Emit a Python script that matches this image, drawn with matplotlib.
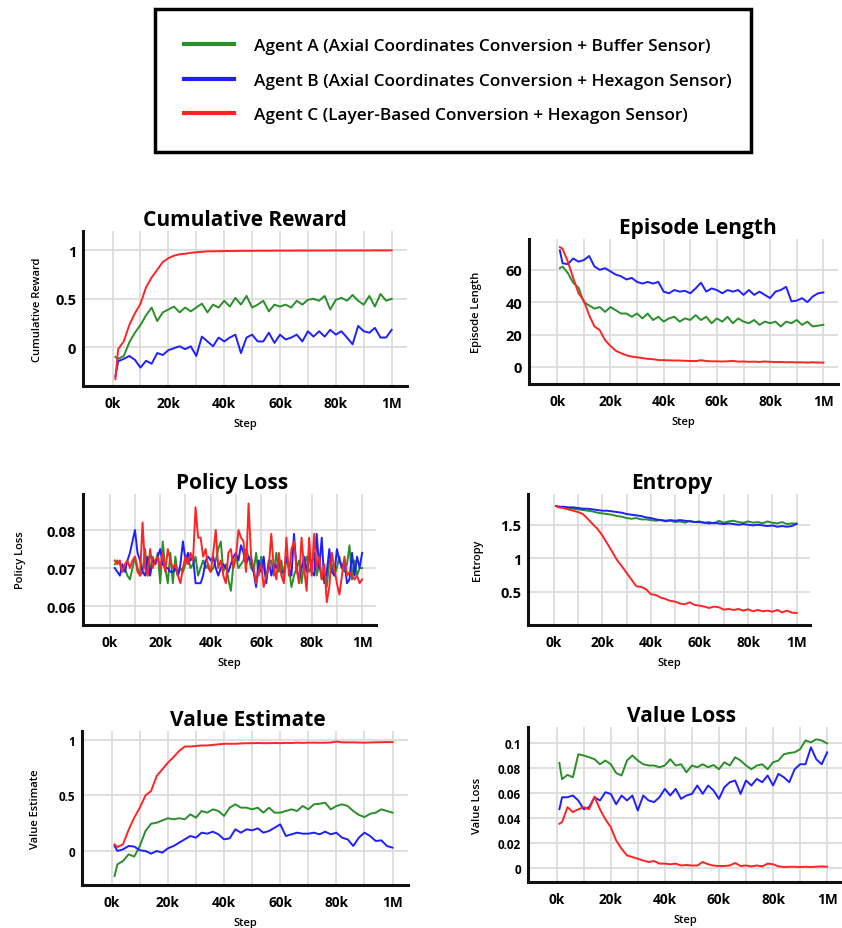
import numpy as np
import matplotlib
matplotlib.use("Agg")
import matplotlib.pyplot as plt
from matplotlib.lines import Line2D

plt.rcParams['font.family'] = ['Open Sans', 'DejaVu Sans']

# data
labels = ["Agent A (Axial Coordinates Conversion + Buffer Sensor)",
          "Agent B (Axial Coordinates Conversion + Hexagon Sensor)",
          "Agent C (Layer-Based Conversion + Hexagon Sensor)"]
colors = ["#2a8f2a", "#1f1fff", "#ff2424"]

steps = np.r_[1, np.arange(2, 101, 2)]      # k steps
steps_pl = np.arange(2, 101)

xtick_pos = [0, 20, 40, 60, 80, 100]
xtick_lab = ["0k", "20k", "40k", "60k", "80k", "1M"]

# cumulative reward
cr_a = [-0.10, -0.12, -0.09, 0.05, 0.15, 0.23, 0.33, 0.41, 0.27, 0.36, 0.39, 0.42, 0.36, 0.41, 0.37, 0.41,
        0.45, 0.36, 0.44, 0.41, 0.48, 0.42, 0.51, 0.44, 0.53, 0.41, 0.44, 0.48, 0.37, 0.44, 0.42, 0.44, 0.41,
        0.48, 0.44, 0.49, 0.50, 0.48, 0.53, 0.39, 0.49, 0.51, 0.48, 0.54, 0.48, 0.44, 0.53, 0.42, 0.55, 0.48, 0.50]
cr_b = [-0.30, -0.145, -0.12, -0.09, -0.13, -0.21, -0.14, -0.17, -0.06, -0.08, -0.03, -0.01, 0.01, -0.02, 0.01,
        -0.09, 0.11, 0.06, 0.01, 0.10, 0.06, 0.10, 0.13, -0.06, 0.10, 0.13, 0.06, 0.06, 0.15, 0.045, 0.13, 0.08,
        0.10, 0.13, 0.06, 0.165, 0.11, 0.165, 0.11, 0.18, 0.13, 0.165, 0.10, 0.03, 0.22, 0.165, 0.15, 0.20, 0.10,
        0.10, 0.18]
cr_c = [-0.33, -0.02, 0.06, 0.23, 0.35, 0.45, 0.62, 0.72, 0.80, 0.88, 0.92, 0.945, 0.96, 0.965, 0.975, 0.98,
        0.985, 0.99, 0.99, 0.992, 0.993, 0.993, 0.994, 0.995, 0.995, 0.995, 0.996, 0.996, 0.996, 0.997, 0.997,
        0.997, 0.997, 0.998, 0.998, 0.998, 0.998, 0.998, 0.998, 0.999, 0.999, 0.999, 0.999, 0.999, 0.999, 0.999,
        0.999, 1.0, 1.0, 1.0, 1.0]

# episode length
el_a = [61, 62, 58, 52, 49, 40, 38, 36, 37, 34, 37, 35, 33, 33, 31, 33, 30, 33, 29, 31, 28, 30, 31, 28, 30, 29,
        32, 29, 31, 27, 30, 28, 31, 27, 30, 28, 27, 29, 26, 28, 27, 28, 25, 28, 27, 29, 26, 28, 25, 25.5, 26]
el_b = [72, 64, 63.5, 67, 65, 66, 68.5, 62, 60, 61, 59, 57, 56, 54, 55, 52.5, 51.5, 52.5, 51.5, 52.5, 46.5, 45.5,
        47.5, 46.5, 47, 45.5, 48.5, 52, 46.5, 48.5, 47.5, 45.5, 47.5, 46.5, 47.5, 44.5, 47.5, 44.5, 46.5, 44.5,
        42.5, 46.5, 47.5, 49.5, 40.5, 41, 42.5, 40, 43.5, 45.5, 46]
el_c = [74, 73, 65, 55, 45.5, 41, 32, 25, 22.7, 16.5, 13, 10, 8.5, 7.2, 6.4, 6, 5.5, 5, 4.8, 4.3, 4.2, 4.1, 4, 4,
        3.8, 3.7, 3.6, 4.2, 3.7, 3.5, 3.5, 3.4, 3.5, 3.8, 3.3, 3.4, 3.2, 3.3, 3.1, 3.4, 3.2, 3.0, 3.1, 2.9, 3.0,
        2.8, 2.9, 2.7, 2.9, 2.7, 2.7]

# policy loss
pl_a = [0.071, 0.072, 0.071, 0.069, 0.070, 0.068, 0.067, 0.070, 0.073, 0.070, 0.068, 0.069, 0.075, 0.068, 0.070,
        0.073, 0.071, 0.074, 0.066, 0.077, 0.070, 0.066, 0.074, 0.066, 0.073, 0.068, 0.070, 0.069, 0.071, 0.073,
        0.070, 0.071, 0.073, 0.068, 0.070, 0.072, 0.070, 0.071, 0.069, 0.070, 0.072, 0.075, 0.077, 0.069, 0.071,
        0.067, 0.064, 0.071, 0.073, 0.070, 0.071, 0.072, 0.075, 0.073, 0.070, 0.069, 0.074, 0.068, 0.073, 0.070,
        0.067, 0.071, 0.072, 0.068, 0.074, 0.069, 0.072, 0.067, 0.073, 0.070, 0.065, 0.068, 0.070, 0.072, 0.066,
        0.071, 0.073, 0.069, 0.070, 0.074, 0.068, 0.071, 0.067, 0.069, 0.065, 0.072, 0.071, 0.068, 0.070, 0.073,
        0.070, 0.069, 0.071, 0.076, 0.067, 0.072, 0.068, 0.070, 0.070]
pl_b = [0.070, 0.069, 0.068, 0.071, 0.069, 0.072, 0.074, 0.077, 0.080, 0.074, 0.072, 0.069, 0.068, 0.073, 0.068,
        0.072, 0.071, 0.073, 0.075, 0.071, 0.070, 0.070, 0.069, 0.069, 0.070, 0.068, 0.071, 0.077, 0.072, 0.074,
        0.072, 0.073, 0.066, 0.066, 0.066, 0.068, 0.072, 0.073, 0.072, 0.073, 0.070, 0.068, 0.070, 0.071, 0.070,
        0.069, 0.071, 0.073, 0.074, 0.072, 0.076, 0.074, 0.071, 0.073, 0.072, 0.069, 0.065, 0.072, 0.069, 0.073,
        0.066, 0.072, 0.068, 0.071, 0.070, 0.072, 0.069, 0.069, 0.073, 0.070, 0.068, 0.079, 0.070, 0.067, 0.070,
        0.073, 0.069, 0.074, 0.069, 0.068, 0.079, 0.070, 0.078, 0.066, 0.069, 0.075, 0.069, 0.068, 0.075, 0.072,
        0.070, 0.072, 0.066, 0.067, 0.074, 0.068, 0.073, 0.070, 0.074]
pl_c = [0.072, 0.071, 0.072, 0.069, 0.071, 0.072, 0.070, 0.072, 0.073, 0.069, 0.068, 0.082, 0.070, 0.068, 0.075,
        0.070, 0.072, 0.073, 0.070, 0.074, 0.069, 0.075, 0.072, 0.070, 0.071, 0.068, 0.066, 0.070, 0.073, 0.071,
        0.074, 0.072, 0.086, 0.078, 0.078, 0.073, 0.075, 0.070, 0.069, 0.074, 0.080, 0.070, 0.072, 0.068, 0.066,
        0.074, 0.075, 0.070, 0.073, 0.080, 0.078, 0.077, 0.069, 0.087, 0.073, 0.070, 0.066, 0.069, 0.071, 0.065,
        0.068, 0.070, 0.079, 0.070, 0.067, 0.074, 0.068, 0.066, 0.078, 0.068, 0.075, 0.077, 0.070, 0.066, 0.078,
        0.070, 0.064, 0.078, 0.068, 0.079, 0.070, 0.073, 0.067, 0.071, 0.061, 0.065, 0.074, 0.070, 0.066, 0.063,
        0.068, 0.073, 0.068, 0.069, 0.068, 0.067, 0.068, 0.066, 0.067]

# entropy
en_a = [1.78, 1.77, 1.76, 1.75, 1.74, 1.73, 1.72, 1.71, 1.70, 1.68, 1.67, 1.66, 1.65, 1.63, 1.62, 1.60, 1.59,
        1.60, 1.58, 1.58, 1.57, 1.56, 1.57, 1.55, 1.56, 1.54, 1.55, 1.53, 1.56, 1.54, 1.55, 1.53, 1.54, 1.52,
        1.56, 1.53, 1.55, 1.56, 1.54, 1.53, 1.55, 1.53, 1.54, 1.52, 1.55, 1.53, 1.52, 1.54, 1.51, 1.52, 1.515]
en_b = [1.78, 1.77, 1.77, 1.76, 1.76, 1.75, 1.74, 1.74, 1.73, 1.72, 1.71, 1.71, 1.70, 1.69, 1.68, 1.66, 1.65,
        1.64, 1.63, 1.61, 1.60, 1.58, 1.57, 1.56, 1.57, 1.56, 1.57, 1.56, 1.55, 1.54, 1.54, 1.53, 1.52, 1.53,
        1.52, 1.51, 1.52, 1.51, 1.50, 1.51, 1.50, 1.49, 1.50, 1.49, 1.48, 1.49, 1.47, 1.48, 1.47, 1.48, 1.515]
en_c = [1.78, 1.76, 1.75, 1.73, 1.71, 1.69, 1.66, 1.59, 1.51, 1.44, 1.34, 1.22, 1.10, 0.975, 0.88, 0.78, 0.68,
        0.58, 0.57, 0.535, 0.46, 0.45, 0.41, 0.39, 0.36, 0.35, 0.32, 0.31, 0.34, 0.30, 0.29, 0.275, 0.255, 0.275,
        0.265, 0.23, 0.24, 0.225, 0.24, 0.215, 0.235, 0.205, 0.225, 0.205, 0.215, 0.20, 0.225, 0.19, 0.215, 0.185,
        0.18]

# value estimate
ve_a = [-0.225, -0.12, -0.09, -0.03, -0.05, 0.045, 0.18, 0.245, 0.255, 0.275, 0.295, 0.285, 0.295, 0.285, 0.33,
        0.30, 0.36, 0.345, 0.375, 0.36, 0.315, 0.39, 0.42, 0.39, 0.39, 0.375, 0.39, 0.345, 0.39, 0.345, 0.345,
        0.36, 0.375, 0.36, 0.405, 0.375, 0.42, 0.425, 0.435, 0.375, 0.405, 0.42, 0.405, 0.36, 0.325, 0.305,
        0.335, 0.345, 0.375, 0.36, 0.345]
ve_b = [0.045, 0.0, 0.015, 0.045, 0.04, 0.006, 0.0, -0.024, 0.0, -0.015, 0.024, 0.045, 0.075, 0.105, 0.135,
        0.12, 0.165, 0.156, 0.174, 0.15, 0.105, 0.114, 0.195, 0.165, 0.195, 0.186, 0.204, 0.165, 0.18, 0.21,
        0.24, 0.135, 0.15, 0.165, 0.156, 0.156, 0.165, 0.15, 0.174, 0.15, 0.165, 0.12, 0.105, 0.045, 0.12,
        0.165, 0.135, 0.09, 0.096, 0.045, 0.03]
ve_c = [0.06, 0.035, 0.06, 0.19, 0.30, 0.39, 0.50, 0.54, 0.675, 0.735, 0.795, 0.845, 0.90, 0.94, 0.94, 0.945,
        0.95, 0.95, 0.955, 0.96, 0.965, 0.965, 0.965, 0.968, 0.97, 0.97, 0.972, 0.97, 0.97, 0.972, 0.97, 0.973,
        0.972, 0.975, 0.973, 0.975, 0.975, 0.974, 0.975, 0.976, 0.985, 0.978, 0.977, 0.978, 0.976, 0.975, 0.977,
        0.978, 0.979, 0.98, 0.98]

# value loss
vl_a = [0.084, 0.071, 0.0745, 0.0726, 0.091, 0.090, 0.0886, 0.087, 0.083, 0.086, 0.083, 0.076, 0.074, 0.086,
        0.090, 0.086, 0.083, 0.082, 0.082, 0.0806, 0.082, 0.087, 0.082, 0.083, 0.0766, 0.082, 0.0806, 0.083,
        0.0806, 0.0824, 0.079, 0.0846, 0.082, 0.0886, 0.086, 0.082, 0.079, 0.082, 0.083, 0.079, 0.0846, 0.086,
        0.091, 0.092, 0.0926, 0.095, 0.102, 0.1005, 0.103, 0.102, 0.0997]
vl_b = [0.047, 0.0566, 0.0566, 0.058, 0.054, 0.047, 0.0487, 0.0566, 0.054, 0.0606, 0.0593, 0.051, 0.058, 0.054,
        0.058, 0.046, 0.058, 0.054, 0.0527, 0.0566, 0.0633, 0.058, 0.0633, 0.0553, 0.058, 0.0593, 0.066, 0.0593,
        0.066, 0.062, 0.0553, 0.0646, 0.0686, 0.070, 0.0593, 0.070, 0.066, 0.0713, 0.0686, 0.074, 0.066, 0.0753,
        0.0726, 0.0686, 0.079, 0.083, 0.083, 0.0965, 0.087, 0.083, 0.0925]
vl_c = [0.0354, 0.0367, 0.0487, 0.0447, 0.047, 0.0487, 0.047, 0.057, 0.047, 0.039, 0.0327, 0.022, 0.0154, 0.010,
        0.0088, 0.0074, 0.006, 0.0048, 0.0056, 0.0035, 0.0035, 0.003, 0.0035, 0.002, 0.0024, 0.002, 0.002, 0.0048,
        0.003, 0.0019, 0.0016, 0.0016, 0.002, 0.004, 0.0016, 0.002, 0.0013, 0.002, 0.0013, 0.0035, 0.003, 0.0013,
        0.0008, 0.001, 0.001, 0.0008, 0.001, 0.0008, 0.001, 0.0013, 0.001]

W, H = 842, 929
fig = plt.figure(figsize=(W / 100, H / 100), dpi=100)


def box(l, t, r, b):
    return [l / W, 1 - b / H, (r - l) / W, (b - t) / H]


panels = [
    # title, ylabel, series, x, rect(px), ylim, yticks, ylabels, tick fs, ylabel offset px, title x
    ("Cumulative Reward", "Cumulative Reward", [cr_a, cr_b, cr_c], steps, (83, 232, 407, 387),
     (-0.40, 1.2), [0, 0.5, 1], ["0", "0.5", "1"], 10.5, 46, 0.5),
    ("Episode Length", "Episode Length", [el_a, el_b, el_c], steps, (529, 240, 838, 385),
     (-10.5, 79), [0, 20, 40, 60], ["0", "20", "40", "60"], 10.5, 52, 0.545),
    ("Policy Loss", "Policy Loss", [pl_a, pl_b, pl_c], steps_pl, (83, 495, 376, 626),
     (0.055, 0.0895), [0.06, 0.07, 0.08], ["0.06", "0.07", "0.08"], 10.5, 63, 0.51),
    ("Entropy", "Entropy", [en_a, en_b, en_c], steps, (528, 495, 810, 626),
     (0.0, 1.96), [0.5, 1, 1.5], ["0.5", "1", "1.5"], 10.5, 51, 0.51),
    ("Value Estimate", "Value Estimate", [ve_a, ve_b, ve_c], steps, (82, 732, 408, 886),
     (-0.306, 1.08), [0, 0.5, 1], ["0", "0.5", "1"], 8.5, 47, 0.51),
    ("Value Loss", "Value Loss", [vl_a, vl_b, vl_c], steps, (528, 728, 842, 883),
     (-0.0112, 0.1128), [0, 0.02, 0.04, 0.06, 0.08, 0.1], ["0", "0.02", "0.04", "0.06", "0.08", "0.1"],
     8.5, 51, 0.49),
]

for title, ylab, series, xs, rect, ylim, yt, ytl, tfs, yoff, tx in panels:
    ax = fig.add_axes(box(*rect))
    ax.set_xlim(-10.6, 105.5)
    ax.set_ylim(*ylim)
    ax.set_xticks(xtick_pos)
    ax.set_xticklabels(xtick_lab, fontsize=9.8, fontweight="bold")
    ax.set_xticks(np.arange(10, 100, 20), minor=True)
    ax.set_yticks(yt)
    ax.set_yticklabels(ytl, fontsize=tfs, fontweight="bold")
    ax.tick_params(length=0, which="both", pad=5)
    ax.tick_params(axis="x", pad=7)
    ax.grid(True, which="both", color="#dcdcdc", lw=1.3)
    ax.set_axisbelow(True)
    for s in ["top", "right"]:
        ax.spines[s].set_visible(False)
    for s in ["left", "bottom"]:
        ax.spines[s].set_linewidth(2.2)
        ax.spines[s].set_color("#111111")
    for vals, c in zip(series, colors):
        xv = np.linspace(xs[0], xs[-1], len(vals)) if len(vals) != len(xs) else xs
        ax.plot(xv, vals, color=c, lw=1.4)
    ax.set_title(title, fontsize=15, fontweight="bold", x=tx, pad=4)
    wpx = rect[2] - rect[0]
    hpx = rect[3] - rect[1]
    ax.set_ylabel(ylab, fontsize=8, fontweight="semibold")
    ax.yaxis.set_label_coords(-yoff / wpx, 0.5)
    ax.yaxis.label.set_va("center")
    ax.set_xlabel("Step", fontsize=8, fontweight="semibold")
    ax.xaxis.set_label_coords(0.5, -38 / hpx)
    ax.xaxis.label.set_va("center")

leg_handles = [Line2D([], [], color=c, lw=3) for c in colors]
leg = fig.legend(leg_handles, labels, loc="center", bbox_to_anchor=box(155, 10, 751, 153),
                 mode="expand", prop={"weight": "semibold", "size": 12.4},
                 handlelength=2.9, handletextpad=1.15, labelspacing=1.09, borderpad=1.68,
                 borderaxespad=0, fancybox=False, framealpha=1, edgecolor="black")
leg.get_frame().set_linewidth(2.5)

fig.savefig("out.png", dpi=100)
